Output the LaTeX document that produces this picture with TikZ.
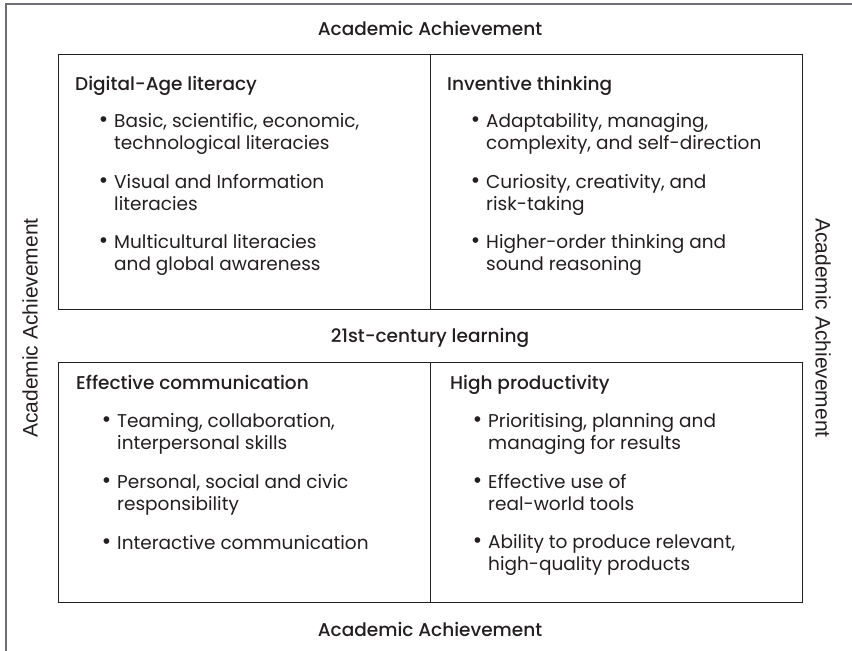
\documentclass[tikz,border=0pt]{standalone}
\usepackage{fontspec}
\setmainfont{Poppins}
\newfontfamily\headfont{Poppins Medium}
\newfontfamily\sidefont{Liberation Sans}
\definecolor{ink}{HTML}{231F20}
\definecolor{framegray}{HTML}{6D6E71}
\newcommand{\bul}{\llap{\raisebox{1pt}{\sidefont\fontsize{21}{21}\selectfont\textbullet}\hspace{7pt}}}
\begin{document}
\begin{tikzpicture}[x=1pt,y=-1pt,
  quad/.style={draw=ink,line width=1.3pt,rectangle,inner sep=0pt,
    minimum width=372pt,anchor=north west},
  boxhead/.style={anchor=base west,inner sep=0pt,text=ink,
    font=\headfont\fontsize{18.5}{22}\selectfont},
  bulletitem/.style={anchor=base west,inner sep=0pt,align=left,text=ink,
    font=\fontsize{18.5}{22}\selectfont},
  outerhead/.style={anchor=base,inner sep=0pt,text=ink,
    font=\headfont\fontsize{18.5}{22}\selectfont},
  sidehead/.style={inner sep=0pt,text=ink,font=\sidefont\fontsize{21}{24}\selectfont}]
\useasboundingbox (0,0) rectangle (852,651);
\draw[framegray,line width=1.2pt] (852,4) -- (6,4) -- (6,651);
%boxes
  \node[quad,minimum height=255pt] (dl) at (58,54) {};
  \node[quad,minimum height=255pt] (it) at (430,54) {};
  \node[quad,minimum height=240pt] (ec) at (58,362) {};
  \node[quad,minimum height=240pt] (hp) at (430,362) {};
%outer labels
  \node[outerhead] (top) at (430,35) {Academic Achievement};
  \node[outerhead] (mid) at (430,342) {21st-century learning};
  \node[outerhead] (bot) at (430,636) {Academic Achievement};
  \node[sidehead,rotate=90] (left) at (30,328) {Academic Achievement};
  \node[sidehead,rotate=-90] (right) at (823,328) {Academic Achievement};
%Digital-Age literacy
  \node[boxhead] (dlh) at (75,90) {Digital-Age literacy};
  \node[bulletitem] (dl1) at (114,149) {\bul Basic, scientific, economic,\\technological literacies};
  \node[bulletitem] (dl2) at (114,210) {\bul Visual and Information\\literacies};
  \node[bulletitem] (dl3) at (114,270) {\bul Multicultural literacies\\and global awareness};
%Inventive thinking
  \node[boxhead] (ith) at (447,90) {Inventive thinking};
  \node[bulletitem] (it1) at (486,149) {\bul Adaptability, managing,\\complexity, and self-direction};
  \node[bulletitem] (it2) at (486,210) {\bul Curiosity, creativity, and\\risk-taking};
  \node[bulletitem] (it3) at (486,270) {\bul Higher-order thinking and\\sound reasoning};
%Effective communication
  \node[boxhead] (ech) at (76,389) {Effective communication};
  \node[bulletitem] (ec1) at (117,449) {\bul Teaming, collaboration,\\interpersonal skills};
  \node[bulletitem] (ec2) at (117,510) {\bul Personal, social and civic\\responsibility};
  \node[bulletitem] (ec3) at (117,549) {\bul Interactive communication};
%High productivity
  \node[boxhead] (hph) at (450,389) {High productivity};
  \node[bulletitem] (hp1) at (488,449) {\bul Prioritising, planning and\\managing for results};
  \node[bulletitem] (hp2) at (488,510) {\bul Effective use of\\real-world tools};
  \node[bulletitem] (hp3) at (488,570) {\bul Ability to produce relevant,\\high-quality products};
\end{tikzpicture}
\end{document}
